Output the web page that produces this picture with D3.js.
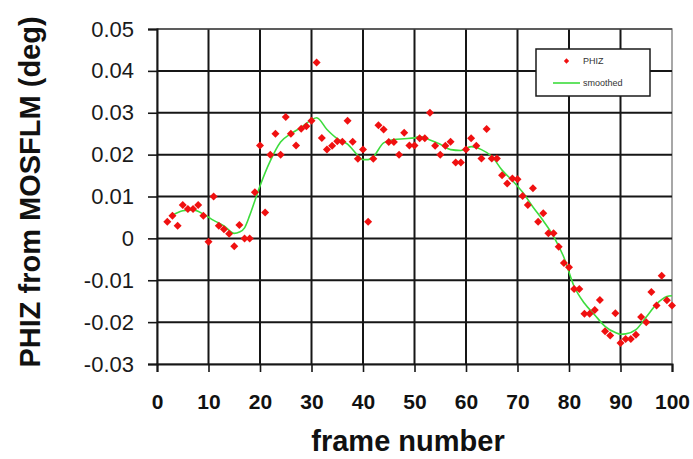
<!DOCTYPE html>
<html>
<head>
<meta charset="utf-8">
<script src="https://cdn.jsdelivr.net/npm/d3@7"></script>
<style>
  body { margin: 0; background: #fff; }
  svg { display: block; font-family: Arial, "Liberation Sans", sans-serif; }
</style>
</head>
<body>
<svg id="chart" width="693" height="459"></svg>
<script>
// PHIZ measured per frame (frames 2..100)
const frames = d3.range(2, 101);
const phiz = [
  0.004, 0.0054, 0.003, 0.008, 0.007, 0.007, 0.008, 0.0054, -0.0008,
  0.010, 0.003, 0.0022, 0.0011, -0.0019, 0.0032, 0.0, 0.0, 0.011, 0.0222,
  0.0062, 0.020, 0.025, 0.020, 0.029, 0.025, 0.0222, 0.0262, 0.0268, 0.0281,
  0.042, 0.024, 0.0212, 0.0221, 0.0232, 0.0231, 0.0281, 0.0231, 0.019, 0.0212,
  0.004, 0.019, 0.027, 0.026, 0.023, 0.023, 0.020, 0.0252, 0.0222, 0.0222,
  0.0239, 0.0239, 0.030, 0.0221, 0.020, 0.0221, 0.0231, 0.0181, 0.0181, 0.0212,
  0.0239, 0.0221, 0.0191, 0.0261, 0.0191, 0.0191, 0.0151, 0.0131, 0.0143, 0.0141,
  0.0101, 0.008, 0.012, 0.004, 0.006, 0.0012, 0.0012, -0.002, -0.0059, -0.0069,
  -0.0121, -0.0121, -0.018, -0.018, -0.0171, -0.0147, -0.0222, -0.0232, -0.0179, -0.025,
  -0.024, -0.024, -0.023, -0.0188, -0.020, -0.0128, -0.016, -0.0089, -0.0148, -0.016
];

// smoothed curve
const smoothFrames = [3, 5, 7, 9, 11, 13, 15, 16, 17, 18, 19, 20, 22, 24, 26, 28, 30, 31,
  33, 35, 37, 39, 40, 41, 42, 44, 46, 48, 50, 51, 53, 55, 57, 59, 61, 63, 65, 67, 69,
  71, 73, 75, 77, 79, 81, 83, 85, 87, 89, 90, 91, 93, 95, 97, 99, 100];
const smoothValues = [0.0055, 0.0066, 0.0068, 0.0058, 0.0043, 0.0030, 0.0012, 0.0015, 0.0025,
  0.0055, 0.009, 0.0125, 0.0185, 0.023, 0.025, 0.0265, 0.0283, 0.0288,
  0.026, 0.0238, 0.0225, 0.0198, 0.0188, 0.0188, 0.0195, 0.0228, 0.0236, 0.0238, 0.0240, 0.0243,
  0.0235, 0.0225, 0.0212, 0.0210, 0.0219, 0.0212, 0.0196, 0.0163, 0.0138,
  0.0110, 0.0075, 0.0042, 0.0005, -0.0045, -0.0115, -0.0155, -0.0183, -0.0210, -0.0225,
  -0.0229, -0.0228, -0.0218, -0.0188, -0.0157, -0.0139, -0.0137];

const xTicks = [0, 10, 20, 30, 40, 50, 60, 70, 80, 90, 100];
const yTicks = [0.05, 0.04, 0.03, 0.02, 0.01, 0, -0.01, -0.02, -0.03];
const yTickLabels = ['0.05', '0.04', '0.03', '0.02', '0.01', '0', '-0.01', '-0.02', '-0.03'];

const svg = d3.select('#chart');
const plotLeft = 157, plotRight = 672, plotTop = 29, plotBottom = 364;

const x = d3.scaleLinear().domain([0, 100]).range([plotLeft, plotRight]);
const y = d3.scaleLinear().domain([-0.03, 0.05]).range([plotBottom, plotTop]);

// plot frame
svg.append('rect')
  .attr('x', plotLeft).attr('y', plotTop)
  .attr('width', plotRight - plotLeft).attr('height', plotBottom - plotTop)
  .attr('fill', '#fff')
  .attr('stroke', '#8a8a8a')
  .attr('stroke-width', 1.5);

// grid
const grid = svg.append('g').attr('stroke', '#161616').attr('stroke-width', 2);
grid.selectAll('line.h')
  .data(yTicks.filter(d => d > -0.03 && d < 0.05))
  .enter().append('line')
  .attr('x1', plotLeft).attr('x2', plotRight)
  .attr('y1', d => y(d)).attr('y2', d => y(d));
grid.selectAll('line.v')
  .data(xTicks.filter(d => d > 0 && d < 100))
  .enter().append('line')
  .attr('y1', plotTop).attr('y2', plotBottom)
  .attr('x1', d => x(d)).attr('x2', d => x(d));
svg.append('line')
  .attr('x1', plotLeft).attr('x2', plotRight)
  .attr('y1', y(0.05)).attr('y2', y(0.05))
  .attr('stroke', '#444').attr('stroke-width', 1.5);

// axes
const yAxis = svg.append('g')
  .attr('transform', `translate(${plotLeft},0)`)
  .call(d3.axisLeft(y).tickValues(yTicks)
    .tickFormat((d, i) => yTickLabels[i])
    .tickSize(9).tickPadding(14));
yAxis.select('.domain').attr('stroke', '#161616').attr('stroke-width', 2);
yAxis.selectAll('.tick line').attr('stroke', '#161616').attr('stroke-width', 1.6);
yAxis.selectAll('.tick text')
  .attr('font-size', 22).attr('fill', '#1a1a1a')
  .attr('font-family', 'Arial, "Liberation Sans", sans-serif');

const xAxis = svg.append('g')
  .attr('transform', `translate(0,${plotBottom})`)
  .call(d3.axisBottom(x).tickValues(xTicks).tickSize(8).tickPadding(22));
xAxis.select('.domain').attr('stroke', '#161616').attr('stroke-width', 2);
xAxis.selectAll('.tick line').attr('stroke', '#161616').attr('stroke-width', 1.6);
xAxis.selectAll('.tick text')
  .attr('font-size', 21).attr('font-weight', 'bold').attr('fill', '#111')
  .attr('font-family', 'Arial, "Liberation Sans", sans-serif');

// titles
svg.append('text')
  .attr('x', 408).attr('y', 451)
  .attr('text-anchor', 'middle')
  .attr('font-size', 29).attr('font-weight', 'bold').attr('fill', '#111')
  .text('frame number');

svg.append('text')
  .attr('transform', 'translate(40,192) rotate(-90)')
  .attr('text-anchor', 'middle')
  .attr('font-size', 29).attr('font-weight', 'bold').attr('fill', '#111')
  .text('PHIZ from MOSFLM (deg)');

// smoothed line
const line = d3.line()
  .x(d => x(d[0]))
  .y(d => y(d[1]))
  .curve(d3.curveMonotoneX);

svg.append('path')
  .datum(smoothFrames.map((f, i) => [f, smoothValues[i]]))
  .attr('fill', 'none')
  .attr('stroke', '#3ddc3d')
  .attr('stroke-width', 1.6)
  .attr('d', line);

// markers
const marker = d3.symbol().type(d3.symbolSquare).size(32);
svg.append('g')
  .selectAll('path')
  .data(frames.map((f, i) => [f, phiz[i]]))
  .enter().append('path')
  .attr('d', marker)
  .attr('transform', d => `translate(${x(d[0])},${y(d[1])}) rotate(45)`)
  .attr('fill', '#f01010');

// legend
const legend = svg.append('g');
legend.append('rect')
  .attr('x', 536).attr('y', 49).attr('width', 114).attr('height', 47)
  .attr('fill', '#fff').attr('stroke', '#1a1a1a').attr('stroke-width', 1.5);
legend.append('path')
  .attr('d', d3.symbol().type(d3.symbolSquare).size(14))
  .attr('transform', 'translate(566.5,61) rotate(45)')
  .attr('fill', '#f01010');
legend.append('text')
  .attr('x', 583).attr('y', 64)
  .attr('font-size', 9).attr('fill', '#333')
  .text('PHIZ');
legend.append('line')
  .attr('x1', 553).attr('x2', 580).attr('y1', 83).attr('y2', 83)
  .attr('stroke', '#3ddc3d').attr('stroke-width', 1.6);
legend.append('text')
  .attr('x', 583).attr('y', 86)
  .attr('font-size', 9).attr('fill', '#333')
  .text('smoothed');
</script>
</body>
</html>
